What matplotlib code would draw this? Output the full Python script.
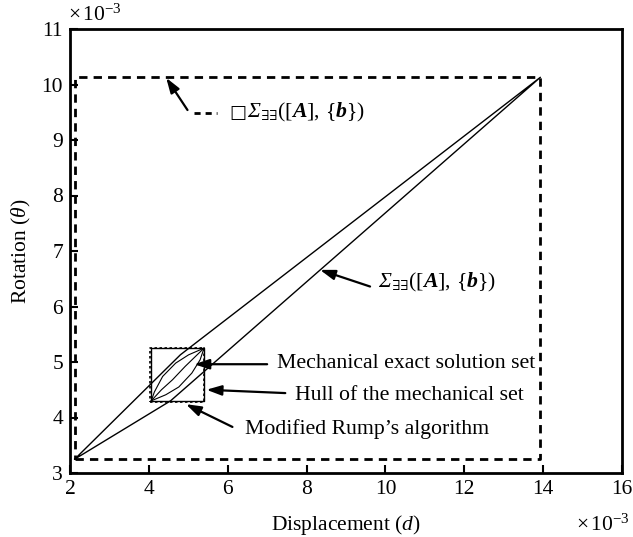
import matplotlib
matplotlib.use("Agg")
import matplotlib.pyplot as plt

plt.rcParams['font.family'] = ['Liberation Serif', 'DejaVu Serif']
plt.rcParams['mathtext.fontset'] = 'custom'
plt.rcParams['mathtext.rm'] = 'Liberation Serif'
plt.rcParams['mathtext.it'] = 'Liberation Serif:italic'
plt.rcParams['mathtext.sf'] = 'Liberation Serif:italic'
plt.rcParams['mathtext.bf'] = 'Liberation Serif:bold'
plt.rcParams['mathtext.bfit'] = 'Liberation Serif:bold:italic'
plt.rcParams['mathtext.fallback'] = 'stix'

# solution set boundary (values in units of 1e-3)
sigma_d = [2.12, 4.80, 13.93, 4.55, 2.12]
sigma_theta = [3.25, 5.13, 10.13, 4.30, 3.25]

# interval hull of the solution set
hull_d = [2.12, 13.93]
hull_theta = [3.25, 10.13]

# hull of the mechanical set and Rump's enclosure
mech_hull_d = [4.06, 5.40]
mech_hull_theta = [4.30, 5.25]
rump_d = [4.04, 5.40]
rump_theta = [4.28, 5.25]

# mechanical exact solution set (lens-shaped)
mech_upper_d = [4.06, 4.14, 4.35, 4.68, 5.01, 5.40]
mech_upper_theta = [4.30, 4.46, 4.74, 4.98, 5.13, 5.25]
mech_mid_d = [4.06, 4.32, 4.60, 4.92, 5.40]
mech_mid_theta = [4.30, 4.50, 4.68, 4.92, 5.25]
mech_lower_d = [4.06, 4.43, 4.76, 5.09, 5.30, 5.40]
mech_lower_theta = [4.30, 4.41, 4.55, 4.80, 5.04, 5.25]

xticks = [2, 4, 6, 8, 10, 12, 14, 16]
yticks = [3, 4, 5, 6, 7, 8, 9, 10, 11]

fs = 15.5
fs_note = 15.7
fig = plt.figure(figsize=(6.33, 5.37), dpi=100)
ax = fig.add_axes([70 / 633, 64 / 537, 552 / 633, 444 / 537])

def box(xs, ys, **kw):
    ax.plot([xs[0], xs[1], xs[1], xs[0], xs[0]],
            [ys[0], ys[0], ys[1], ys[1], ys[0]], **kw)

box(hull_d, hull_theta, color='black', lw=2, ls=(0, (3, 2.2)))
ax.plot(sigma_d, sigma_theta, color='black', lw=1.0)
box(rump_d, rump_theta, color='black', lw=1.2, ls=(0, (1.5, 1.5)))
box(mech_hull_d, mech_hull_theta, color='black', lw=1.0)
ax.plot(mech_upper_d, mech_upper_theta, color='black', lw=0.8)
ax.plot(mech_mid_d, mech_mid_theta, color='black', lw=0.8)
ax.plot(mech_lower_d, mech_lower_theta, color='black', lw=0.8)

arrow = dict(arrowstyle='-|>,head_length=0.9,head_width=0.3', color='black', lw=1.6,
             shrinkA=0, shrinkB=0)

# italic sigma goes through the sf slot (the it slot keeps Greek capitals upright)
sigma_lbl = r'$\mathsf{Σ}_{\exists\exists}([\boldsymbol{A}],\,\{\boldsymbol{b}\})$'

ax.annotate('', xy=(4.44, 10.12), xytext=(4.98, 9.54), arrowprops=arrow)
ax.plot([5.15, 5.73], [9.49, 9.49], color='black', lw=2, ls=(0, (2.2, 1.8)))
ax.text(6.05, 9.49, '\u25a1', fontsize=13, va='center', ha='left',
        family=['DejaVu Sans'])
ax.text(6.48, 9.49, sigma_lbl, fontsize=fs_note, va='center', ha='left')

ax.annotate('', xy=(8.34, 6.66), xytext=(9.61, 6.36), arrowprops=arrow)
ax.text(9.81, 6.44, sigma_lbl, fontsize=fs_note, va='center', ha='left')

ax.annotate('', xy=(5.15, 4.96), xytext=(7.0, 4.96), arrowprops=arrow)
ax.text(7.25, 4.98, 'Mechanical exact solution set', fontsize=fs_note, va='center', ha='left')

ax.annotate('', xy=(5.46, 4.50), xytext=(7.46, 4.44), arrowprops=arrow)
ax.text(7.71, 4.40, 'Hull of the mechanical set', fontsize=fs_note, va='center', ha='left')

ax.annotate('', xy=(4.94, 4.24), xytext=(6.12, 3.83), arrowprops=arrow)
ax.text(6.45, 3.80, 'Modified Rump\u2019s algorithm', fontsize=fs_note, va='center', ha='left')

ax.set_xlim(2, 16)
ax.set_ylim(3, 11)
ax.set_xticks(xticks)
ax.set_yticks(yticks)
ax.tick_params(direction='in', length=6, width=1.5, labelsize=fs, pad=5,
               top=False, right=False)
for s in ax.spines.values():
    s.set_linewidth(2)

ax.set_xlabel('Displacement ($d$)', fontsize=fs, labelpad=10)
ax.set_ylabel(r'Rotation ($\theta$)', fontsize=fs, labelpad=6)
fig.text(68 / 633, 1 - 15 / 537, r'$\times\,10^{-3}$', fontsize=fs, va='center', ha='left')
fig.text(576 / 633, 1 - 525 / 537, r'$\times\,10^{-3}$', fontsize=fs, va='center', ha='left')

fig.savefig('out.png', dpi=100)
